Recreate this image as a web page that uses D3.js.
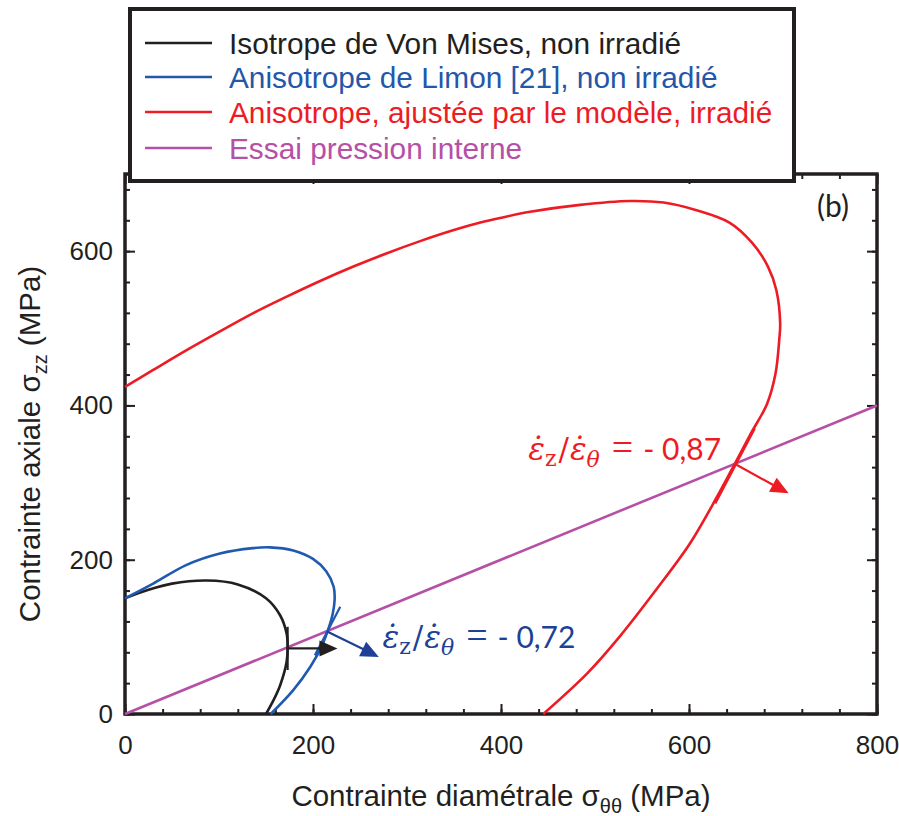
<!DOCTYPE html>
<html><head><meta charset="utf-8">
<script src="https://cdn.jsdelivr.net/npm/d3@7"></script>
<style>body{margin:0;background:#fff} svg{display:block}</style>
</head><body><svg id="c" width="899" height="816"></svg>
<script>
// ---------- data ----------
const xDomain = [0, 800];
const yDomain = [0, 700];
const xTickLabels = [0, 200, 400, 600, 800];
const yTickLabels = [0, 200, 400, 600];
const xMinorTicks = [0,40,80,120,160,200,240,280,320,360,400,440,480,520,560,600,640,680,720,760,800];
const yMinorTicks = [0,40,80,120,160,200,240,280,320,360,400,440,480,520,560,600,640,680];

// Isotrope de Von Mises, non irradié
const vmTheta = [0, 25, 50, 87, 120, 150, 165, 172, 173, 172, 165, 158, 150];
const vmZ     = [150, 161, 169, 173, 168, 150, 128, 104, 87, 68, 37, 18, 0];
// Anisotrope de Limon [21], non irradié
const limTheta = [0, 30, 65, 101, 136, 154, 179, 200, 214, 222, 223, 221, 216, 209, 197, 179, 155];
const limZ     = [150, 169, 193, 208, 215, 216, 212, 201, 185, 165, 148, 130, 109, 87, 61, 31, 0];
// Anisotrope, ajustée par le modèle, irradié
const irrTheta = [0, 30, 66, 101, 137, 172, 207, 243, 278, 314, 349, 378, 399, 431, 484, 537, 573, 608, 643, 667, 684, 693, 697, 696, 692, 683, 666, 649, 630, 601, 565, 526, 492, 445];
const irrZ     = [424, 446, 472, 496, 520, 541, 561, 580, 597, 613, 627, 637, 643, 651, 660, 665, 663, 653, 637, 611, 580, 549, 506, 485, 441, 402, 364, 325, 282, 221, 161, 100, 53, 0];
// Essai pression interne
const essaiTheta = [0, 800];
const essaiZ = [0, 400];

// tangents and normals
const blackTangent = [[173, 113], [173, 57]];
const blackArrow = [[173, 85], [226, 85]];
const blueTangent = [[229, 139], [202, 76]];
const blueArrow = [[215, 107], [270, 74]];
const redTangent = [[628, 273], [670, 370]];
const redArrow = [[649, 324], [706, 286]];

const blueRatio = "- 0,72", redRatio = "- 0,87";
const blueRatioPos = [274, 86], redRatioPos = [429, 329];

const legendLabels = ["Isotrope de Von Mises, non irradié", "Anisotrope de Limon [21], non irradié", "Anisotrope, ajustée par le modèle, irradié", "Essai pression interne"];
const legendColors = ["#231f20", "#2457a8", "#ed1c24", "#b550a6"];

// ---------- drawing ----------
const svg = d3.select("#c");
const x = d3.scaleLinear().domain(xDomain).range([125, 877]);
const y = d3.scaleLinear().domain(yDomain).range([714, 174]);
const AX = "'Liberation Sans', Arial, sans-serif";
const cBlack = "#231f20", cBlue = "#2159b0", cBlueTxt = "#203f96", cRed = "#ed1c24", cPurple = "#b550a6";

// ticks (inward)
function axes() {
  const g = svg.append("g");
  const mk = (axis, tr) => { const a = g.append("g").attr("transform", tr).call(axis); a.select(".domain").remove(); return a; };
  mk(d3.axisBottom(x).tickValues(xMinorTicks).tickSize(-5).tickFormat(""), "translate(0,714)");
  mk(d3.axisTop(x).tickValues(xMinorTicks).tickSize(-5).tickFormat(""), "translate(0,174)");
  mk(d3.axisLeft(y).tickValues(yMinorTicks).tickSize(-5).tickFormat(""), "translate(125,0)");
  mk(d3.axisRight(y).tickValues(yMinorTicks).tickSize(-5).tickFormat(""), "translate(877,0)");
  mk(d3.axisBottom(x).tickValues(xTickLabels).tickSize(-10).tickPadding(22), "translate(0,714)");
  mk(d3.axisTop(x).tickValues(xTickLabels).tickSize(-10).tickFormat(""), "translate(0,174)");
  mk(d3.axisLeft(y).tickValues(yTickLabels).tickSize(-10).tickPadding(12), "translate(125,0)");
  mk(d3.axisRight(y).tickValues(yTickLabels).tickSize(-10).tickFormat(""), "translate(877,0)");
  g.selectAll(".tick line").attr("stroke", cBlack).attr("stroke-width", 2);
  g.selectAll(".tick text").attr("fill", cBlack).style("font-family", AX).style("font-size", "26px");
}
axes();

// frame
svg.append("rect").attr("x", 125).attr("y", 174).attr("width", 752).attr("height", 540)
  .attr("fill", "none").attr("stroke", cBlack).attr("stroke-width", 3.5);

const line = d3.line().x(d => x(d[0])).y(d => y(d[1])).curve(d3.curveCatmullRom.alpha(0.5));
const straight = d3.line().x(d => x(d[0])).y(d => y(d[1]));
const zip = (a, b) => a.map((v, i) => [v, b[i]]);

svg.append("path").attr("d", straight(zip(essaiTheta, essaiZ))).attr("fill", "none").attr("stroke", cPurple).attr("stroke-width", 2.6);
svg.append("path").attr("d", line(zip(vmTheta, vmZ))).attr("fill", "none").attr("stroke", cBlack).attr("stroke-width", 2.6);
svg.append("path").attr("d", line(zip(limTheta, limZ))).attr("fill", "none").attr("stroke", cBlue).attr("stroke-width", 2.6);
svg.append("path").attr("d", line(zip(irrTheta, irrZ))).attr("fill", "none").attr("stroke", cRed).attr("stroke-width", 2.6);

svg.append("path").attr("d", straight(blackTangent)).attr("stroke", cBlack).attr("stroke-width", 2.2);
svg.append("path").attr("d", straight(blueTangent)).attr("stroke", cBlue).attr("stroke-width", 2.2);
svg.append("path").attr("d", straight(redTangent)).attr("stroke", cRed).attr("stroke-width", 2.2);

function arrow(pts, color) {
  const [x0, y0] = [x(pts[0][0]), y(pts[0][1])];
  const [x1, y1] = [x(pts[1][0]), y(pts[1][1])];
  const dx = x1 - x0, dy = y1 - y0, L = Math.hypot(dx, dy);
  const ux = dx / L, uy = dy / L, px = -uy, py = ux;
  const hl = 18, hw = 8;
  const bx = x1 - ux * hl, by = y1 - uy * hl;
  svg.append("line").attr("x1", x0).attr("y1", y0).attr("x2", bx + ux * 2).attr("y2", by + uy * 2)
    .attr("stroke", color).attr("stroke-width", 2.2);
  svg.append("polygon").attr("points", [[x1, y1], [bx + px * hw, by + py * hw], [bx - px * hw, by - py * hw]].map(p => p.join(",")).join(" "))
    .attr("fill", color);
}
arrow(blackArrow, cBlack);
arrow(blueArrow, cBlueTxt);
arrow(redArrow, cRed);

function ratioText(pos, val, color) {
  const t = svg.append("text").attr("x", x(pos[0])).attr("y", y(pos[1])).attr("fill", color).style("font-size", "31px");
  const serif = "'DejaVu Serif', serif";
  t.append("tspan").style("font-family", serif).style("font-style", "italic").text("ε\u0307");
  t.append("tspan").attr("dy", 6).style("font-family", serif).style("font-size", "22px").text("z");
  t.append("tspan").attr("dy", -6).attr("dx", 2).style("font-family", serif).text("/");
  t.append("tspan").attr("dx", 1).style("font-family", serif).style("font-style", "italic").text("ε\u0307");
  t.append("tspan").attr("dy", 7).style("font-family", serif).style("font-style", "italic").style("font-size", "22px").text("θ");
  t.append("tspan").attr("dy", -7).attr("dx", 12).style("font-family", "'Liberation Serif', serif").style("font-size", "38px").text("=");
  t.append("tspan").attr("dx", 10).style("font-family", "Lato, 'Open Sans', sans-serif").style("font-size", "30px").text(val);
}
ratioText(blueRatioPos, blueRatio, cBlueTxt);
ratioText(redRatioPos, redRatio, cRed);

// axis titles
const xl = svg.append("text").attr("x", 501).attr("y", 806).attr("text-anchor", "middle")
  .attr("fill", cBlack).style("font-family", AX).style("font-size", "29.5px");
xl.append("tspan").text("Contrainte diamétrale σ");
xl.append("tspan").attr("dy", 7).style("font-size", "20px").text("θθ");
xl.append("tspan").attr("dy", -7).text(" (MPa)");

const yl = svg.append("text").attr("transform", "translate(40,444) rotate(-90)").attr("text-anchor", "middle")
  .attr("fill", cBlack).style("font-family", AX).style("font-size", "29.5px");
yl.append("tspan").text("Contrainte axiale σ");
yl.append("tspan").attr("dy", 7).style("font-size", "20px").text("zz");
yl.append("tspan").attr("dy", -7).text(" (MPa)");

// (b)
svg.append("text").attr("x", 817).attr("y", 217).attr("fill", cBlack)
  .style("font-family", "Lato, 'Open Sans', sans-serif").style("font-size", "30px").text("(b)");

// legend
const lg = svg.append("g");
lg.append("rect").attr("x", 130).attr("y", 9).attr("width", 664).attr("height", 172)
  .attr("fill", "#fff").attr("stroke", cBlack).attr("stroke-width", 4);
const rowY = [43, 77, 112, 148];
legendLabels.forEach((lab, i) => {
  lg.append("line").attr("x1", 145).attr("x2", 212).attr("y1", rowY[i]).attr("y2", rowY[i])
    .attr("stroke", legendColors[i]).attr("stroke-width", 2.6);
  lg.append("text").attr("x", 229).attr("y", rowY[i] + 10.5).attr("fill", legendColors[i])
    .style("font-family", AX).style("font-size", "29.8px").text(lab);
});
</script>
</body></html>
